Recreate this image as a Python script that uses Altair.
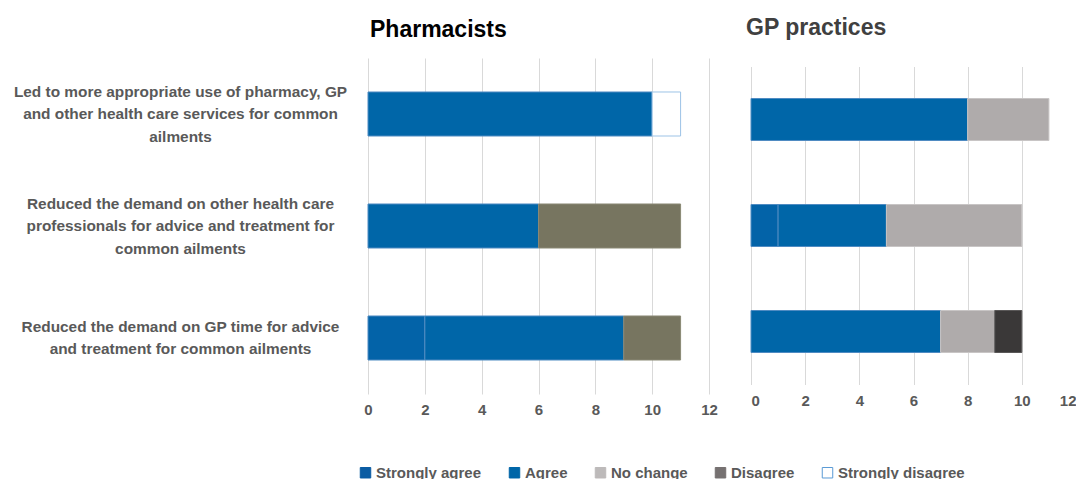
import altair as alt
import pandas as pd

# ---- data ----
statements = [
    "Led to more appropriate use of pharmacy, GP|and other health care services for common|ailments",
    "Reduced the demand on other health care|professionals for advice and treatment for|common ailments",
    "Reduced the demand on GP time for advice|and treatment for common ailments",
]
responses = ["Strongly agree", "Agree", "No change", "Disagree", "Strongly disagree"]
panels = ["Pharmacists", "GP practices"]

pharm_sa = [0, 0, 2]
pharm_a = [10, 6, 7]
pharm_nc = [0, 0, 0]
pharm_d = [0, 5, 2]
pharm_sd = [1, 0, 0]

gp_sa = [0, 1, 0]
gp_a = [8, 4, 7]
gp_nc = [3, 5, 2]
gp_d = [0, 0, 1]
gp_sd = [0, 0, 0]

x_ticks = [0, 2, 4, 6, 8, 10, 12]

# colours
legend_fill = ["#0B5CA3", "#0066A8", "#BDBABA", "#767171", "#FFFFFF"]
pharm_fill = ["#0363A8", "#0066A8", "#AFABAB", "#777560", "#FFFFFF"]
gp_fill = ["#0363A8", "#0066A8", "#AFABAB", "#3A3838", "#FFFFFF"]
legend_stroke = ["#0B5CA3", "#0066A8", "#BDBABA", "#767171", "#5B9BD5"]
bar_stroke = ["#4F8BC2", "#4F8BC2", "#C8C5C5", "#8A8975", "#9DC3E6"]
gp_stroke = ["#4F8BC2", "#4F8BC2", "#C8C5C5", "#5A5858", "#9DC3E6"]

series = {
    "Pharmacists": [pharm_sa, pharm_a, pharm_nc, pharm_d, pharm_sd],
    "GP practices": [gp_sa, gp_a, gp_nc, gp_d, gp_sd],
}

rows = []
for p in panels:
    for ri, r in enumerate(responses):
        for si, s in enumerate(statements):
            v = series[p][ri][si]
            if v > 0:
                rows.append({"panel": p, "statement": s, "response": r, "ri": ri,
                             "value": v, "key": p + "|" + r})
df = pd.DataFrame(rows)

key_domain = responses + ["Pharmacists|" + r for r in responses] + ["GP practices|" + r for r in responses]
fill_range = legend_fill + pharm_fill + gp_fill
stroke_range = legend_stroke + bar_stroke + gp_stroke

FONT = "Liberation Sans"
GRAY = "#595959"
LINE_H = 22.5

legend = alt.Legend(
    values=responses, orient="none", legendX=-10, legendY=407, direction="horizontal",
    title=None, symbolType="square", symbolSize=110, symbolStrokeWidth=1,
    labelFont=FONT, labelFontSize=15, labelFontWeight="bold", labelColor=GRAY,
    columnPadding=25, labelOffset=3,
)


def panel_chart(p, width, height, pad_in, title_color, title_offset, title_dx, show_y,
                x_label_pad, flush):
    d = df[df.panel == p]
    yaxis = alt.Axis(
        title=None, domain=False, ticks=False, labelAlign="center", labelPadding=188,
        labelExpr="split(datum.label, '|')", labelFont=FONT, labelFontSize=15.4,
        labelFontWeight="bold", labelColor=GRAY, labelLineHeight=LINE_H, labelLimit=400,
        labelBaseline="middle",
        labelOffset={"condition": {"test": "length(split(datum.value, '|')) == 2",
                                   "value": -LINE_H / 2},
                     "value": -LINE_H},
    ) if show_y else None
    return alt.Chart(d).mark_bar(strokeWidth=1).encode(
        x=alt.X("value:Q", stack="zero",
                scale=alt.Scale(domain=[0, 12], nice=False),
                axis=alt.Axis(title=None, values=x_ticks, domain=False, ticks=False,
                              grid=True, gridColor="#D9D9D9", gridWidth=1,
                              labelFont=FONT, labelFontSize=15, labelFontWeight="bold",
                              labelColor=GRAY, labelPadding=x_label_pad, labelFlush=flush)),
        y=alt.Y("statement:N", sort=statements,
                scale=alt.Scale(domain=statements, paddingInner=pad_in, paddingOuter=pad_in / 2),
                axis=yaxis),
        color=alt.Color("key:N", scale=alt.Scale(domain=key_domain, range=fill_range), legend=legend),
        stroke=alt.Stroke("key:N", scale=alt.Scale(domain=key_domain, range=stroke_range), legend=legend),
        order=alt.Order("ri:Q"),
    ).properties(
        width=width, height=height,
        title=alt.TitleParams(p, anchor="start", frame="group", font=FONT, fontSize=23,
                              fontWeight="bold", color=title_color, offset=title_offset,
                              dx=title_dx),
    )


left = panel_chart("Pharmacists", 341, 336, 0.607, "#000000", 16, 2, True, 8, False)
right = panel_chart("GP practices", 325, 318, 0.604, "#404040", 27, -5, False, 9, True)

chart = alt.hconcat(left, right, spacing=28, center=True).configure_view(
    stroke=None
).properties(padding={"left": 5, "top": 8, "right": 0, "bottom": 0})

chart.save("out.html", embed_options={"renderer": "svg", "actions": False})
